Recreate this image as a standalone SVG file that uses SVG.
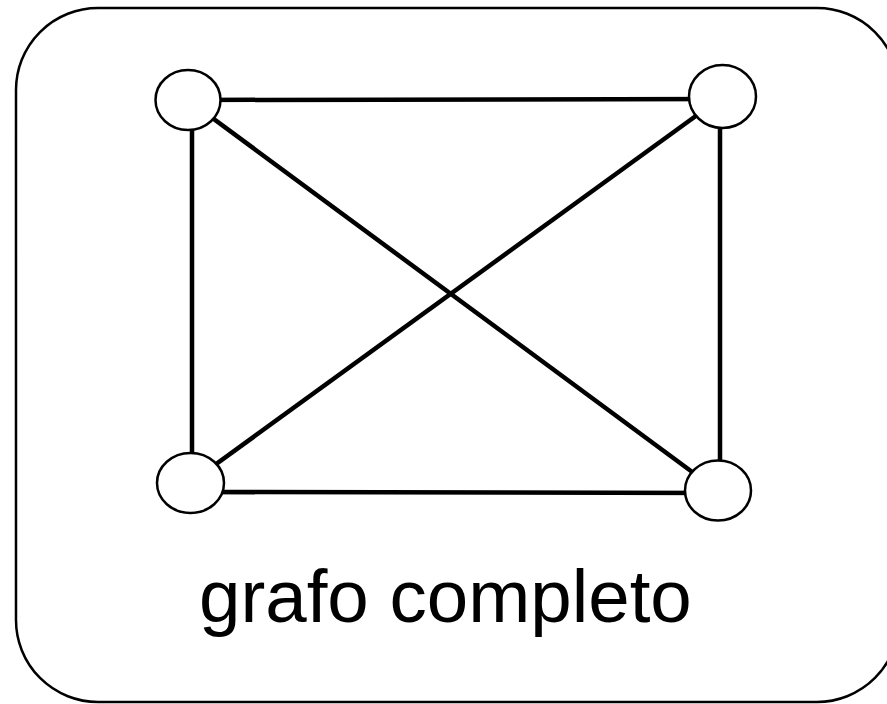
<svg xmlns="http://www.w3.org/2000/svg" width="887" height="704" viewBox="0 0 887 704">
<style>
.frame{fill:#fff;stroke:#000;stroke-width:2.5}
.edge{stroke:#000;stroke-width:4.5;fill:none}
.node{fill:#fff;stroke:#000;stroke-width:2.5}
.label{font-family:"Liberation Sans",Arial,sans-serif;font-size:74.5px;fill:#000}
</style>
<rect width="887" height="704" fill="#fff"/>
<rect class="frame" x="16" y="8" width="883" height="694" rx="82" ry="82"/>
<g id="connectors">
<line class="edge" x1="188" y1="100" x2="722" y2="99"/>
<line class="edge" x1="192" y1="100" x2="192" y2="483"/>
<line class="edge" x1="720" y1="97" x2="720" y2="491"/>
<line class="edge" x1="190" y1="492" x2="718" y2="493"/>
<line class="edge" x1="188" y1="100" x2="718" y2="491"/>
<line class="edge" x1="722" y1="97" x2="190" y2="483"/>
</g>
<g id="n1"><ellipse class="node" cx="188" cy="100" rx="32.5" ry="30"/></g>
<g id="n2"><ellipse class="node" cx="722.5" cy="96.5" rx="33.5" ry="31.5"/></g>
<g id="n3"><ellipse class="node" cx="190.5" cy="483" rx="33.5" ry="30"/></g>
<g id="n4"><ellipse class="node" cx="718" cy="490.5" rx="33" ry="30"/></g>
<text class="label" x="199" y="622">grafo completo</text>
</svg>
